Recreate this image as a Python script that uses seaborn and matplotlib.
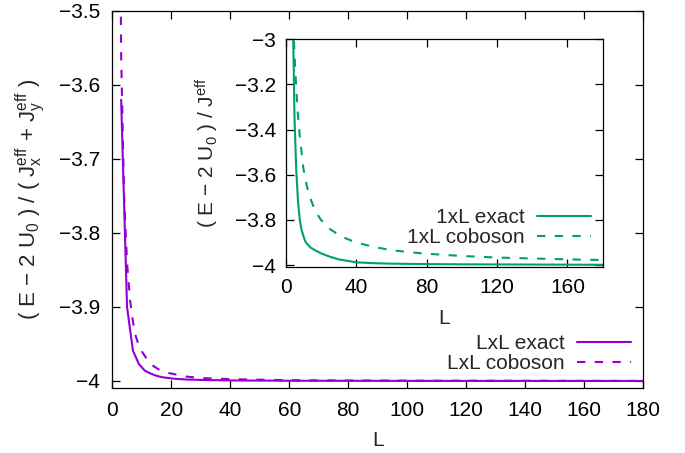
import numpy as np
import pandas as pd
import matplotlib
matplotlib.use("Agg")
import matplotlib.pyplot as plt
from matplotlib.ticker import FuncFormatter, FixedLocator
import seaborn as sns

# LxL lattice: ground-state energy vs linear size
L_2d_exact = [3, 5, 7, 9, 11, 13, 15, 17, 19, 21, 25, 31, 41, 61, 101, 181]
E_2d_exact = [-3.62, -3.90, -3.959, -3.977, -3.986, -3.990, -3.993, -3.995,
              -3.996, -3.997, -3.998, -3.9987, -3.9993, -3.9997, -3.9999, -4.0]
L_2d_cob = [2, 3, 4, 5, 6, 7, 8, 9, 10, 12, 14, 16, 18, 20, 25, 30, 40, 60, 100, 180]
E_2d_cob = [-3.0, -3.56, -3.75, -3.84, -3.89, -3.92, -3.94, -3.952, -3.96,
            -3.972, -3.98, -3.985, -3.988, -3.99, -3.994, -3.996, -3.9975,
            -3.999, -3.9996, -3.9999]

# 1xL chain
L_1d_exact = [4, 5, 6, 7, 8, 9, 10, 11, 12, 14, 17, 20, 25, 30, 40, 50, 60, 80,
              100, 140, 180]
E_1d_exact = [-2.85, -3.35, -3.58, -3.72, -3.80, -3.845, -3.87, -3.893, -3.905,
              -3.922, -3.936, -3.948, -3.963, -3.975, -3.988, -3.992, -3.994,
              -3.996, -3.997, -3.998, -3.999]
L_1d_cob = [4, 5, 6, 7, 8, 9, 10, 12, 14, 16, 18, 20, 22, 25, 30, 35, 40, 50,
            60, 70, 80, 100, 120, 140, 160, 180]
E_1d_cob = [-2.85, -3.07, -3.22, -3.34, -3.43, -3.50, -3.57, -3.65, -3.705,
            -3.745, -3.775, -3.80, -3.815, -3.84, -3.866, -3.885, -3.90, -3.92,
            -3.934, -3.943, -3.95, -3.96, -3.967, -3.971, -3.975, -3.978]

labels_2d = ["LxL exact", "LxL coboson"]
labels_1d = ["1xL exact", "1xL coboson"]

purple = "#9400D3"
green = "#009E73"
dash = (0, (4, 4.5))

sns.set_style("ticks")
plt.rcParams["font.family"] = ["Liberation Sans", "DejaVu Sans"]
plt.rcParams["axes.unicode_minus"] = True
plt.rcParams["mathtext.fontset"] = "custom"
plt.rcParams["mathtext.rm"] = "Liberation Sans"
plt.rcParams["mathtext.it"] = "Liberation Sans"

FS = 15

fig = plt.figure(figsize=(6.85, 4.53), dpi=100)
ax = fig.add_axes([112.3 / 685, 1 - 388 / 453, (643 - 112.3) / 685, (388 - 11) / 453])
axi = fig.add_axes([285.7 / 685, 1 - 266.7 / 453, (602.7 - 285.7) / 685, (266.7 - 39.3) / 453])


def minus_fmt(v, pos):
    s = f"{v:g}"
    return s.replace("-", "\u2212")


def style_axes(a):
    for sp in a.spines.values():
        sp.set_visible(True)
        sp.set_linewidth(0.9)
        sp.set_color("black")
    a.tick_params(direction="in", top=True, right=True, length=5.5, width=0.9,
                  labelsize=FS, colors="black")
    a.yaxis.set_major_formatter(FuncFormatter(minus_fmt))
    a.xaxis.set_major_formatter(FuncFormatter(minus_fmt))
    a.set_facecolor("white")


# Main panel
df_a = pd.DataFrame({"L": L_2d_exact, "E": E_2d_exact})
df_b = pd.DataFrame({"L": L_2d_cob, "E": E_2d_cob})
sns.lineplot(data=df_a, x="L", y="E", ax=ax, color=purple, lw=1.5, label=labels_2d[0])
sns.lineplot(data=df_b, x="L", y="E", ax=ax, color=purple, lw=1.5, linestyle=dash,
             label=labels_2d[1])
ax.set_xlim(0, 180)
ax.set_ylim(-4.0095, -3.5)
ax.xaxis.set_major_locator(FixedLocator(np.arange(0, 181, 20)))
ax.yaxis.set_major_locator(FixedLocator([-4.0, -3.9, -3.8, -3.7, -3.6, -3.5]))
style_axes(ax)
ax.tick_params(axis="y", pad=9)
ax.tick_params(axis="x", pad=9)
ax.set_xlabel("L", fontsize=FS, labelpad=8)
ax.set_ylabel(r"( E $-$ 2 U$_0$ ) / ( J$_x^{\rm eff}$ + J$_y^{\rm eff}$ )", fontsize=16,
              labelpad=8)
h, l = ax.get_legend_handles_labels()
ax.legend(h, l, markerfirst=False, frameon=False, fontsize=FS, loc="upper right",
          bbox_to_anchor=(631 / 685, 1 - 334 / 453), bbox_transform=fig.transFigure,
          borderpad=0, borderaxespad=0, handlelength=2.6, handletextpad=0.6,
          labelspacing=0.05)

# Inset panel
df_c = pd.DataFrame({"L": L_1d_exact, "E": E_1d_exact})
df_d = pd.DataFrame({"L": L_1d_cob, "E": E_1d_cob})
sns.lineplot(data=df_c, x="L", y="E", ax=axi, color=green, lw=1.5, label=labels_1d[0])
sns.lineplot(data=df_d, x="L", y="E", ax=axi, color=green, lw=1.5, linestyle=dash,
             label=labels_1d[1])
axi.set_xlim(0, 180)
axi.set_ylim(-4.0075, -3.0)
axi.xaxis.set_major_locator(FixedLocator([0, 40, 80, 120, 160]))
axi.yaxis.set_major_locator(FixedLocator([-4.0, -3.8, -3.6, -3.4, -3.2, -3.0]))
style_axes(axi)
axi.tick_params(axis="y", pad=7)
axi.tick_params(axis="x", pad=8)
axi.set_xlabel("L", fontsize=FS, labelpad=9)
axi.set_ylabel(r"( E $-$ 2 U$_0$ ) / J$^{\rm eff}$", fontsize=FS, labelpad=10)
h, l = axi.get_legend_handles_labels()
axi.legend(h, l, markerfirst=False, frameon=False, fontsize=FS, loc="upper right",
           bbox_to_anchor=(591 / 685, 1 - 208 / 453), bbox_transform=fig.transFigure,
           borderpad=0, borderaxespad=0, handlelength=2.6, handletextpad=0.6,
           labelspacing=0.05)

fig.savefig("out.png", dpi=100)
